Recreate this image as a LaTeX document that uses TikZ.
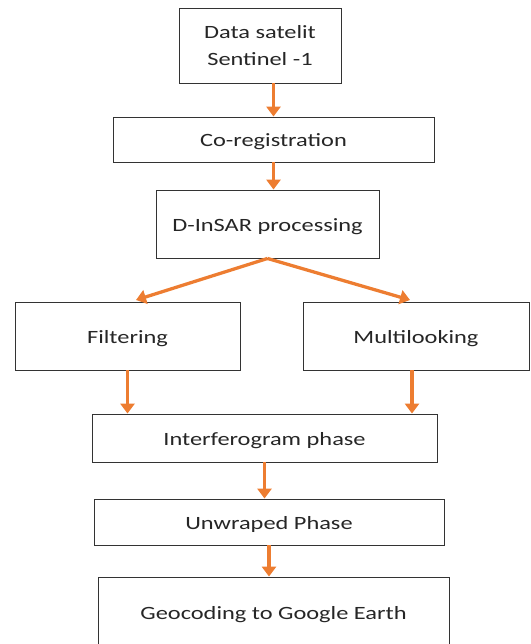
\documentclass[tikz,border=0pt]{standalone}
\usepackage{fontspec}
\setmainfont{Carlito}[FakeStretch=1.3]
\usepackage{xcolor}
\usepackage{tikz}
\usetikzlibrary{shapes,arrows.meta,positioning}
\definecolor{flowOrange}{RGB}{237,125,49}

\begin{document}
\begin{tikzpicture}
  [
    x=0.03cm, y=-0.03cm,
    Box/.style={rectangle, draw=black!80, line width=0.8pt, fill=white, align=center, inner sep=0pt,
      text=black!85, font=\fontsize{16}{23}\selectfont},
    Line/.style={Box, text height=12pt, text depth=0pt},
    Flow/.style={-{Triangle[width=12pt, length=8.5pt]}, draw=flowOrange, fill=flowOrange, line width=2.8pt}
  ]
  \useasboundingbox (0,0) rectangle (530,644);
  % Nodes
  \node[Box, minimum width=4.86cm, minimum height=2.25cm] (data) at(260, 45.5) {Data satelit\\Sentinel -1};
  \node[Line, minimum width=9.63cm, minimum height=1.35cm] (coreg) at(273.5, 139.5) {Co-registration};
  \node[Line, minimum width=6.69cm, minimum height=2.04cm] (dinsar) at(267.5, 224) {D-InSAR processing};
  \node[Line, minimum width=6.75cm, minimum height=2.04cm] (filter) at(127.5, 336) {Filtering};
  \node[Line, minimum width=6.78cm, minimum height=2.04cm] (multi) at(416, 336) {Multilooking};
  \node[Line, minimum width=10.35cm, minimum height=1.44cm] (ifg) at(264.5, 438) {Interferogram phase};
  \node[Line, minimum width=10.5cm, minimum height=1.38cm] (unwrap) at(269, 522) {Unwraped Phase};
  \node[Line, minimum width=10.53cm, minimum height=2.1cm] (geo) at(273.5, 612) {Geocoding to Google Earth};
  \coordinate (fTip) at (136, 300);
  \coordinate (mTip) at (410, 300);
  \coordinate (mOut) at (412, 370);
  % Lines
  \path [Flow] (data.south -| coreg.north) -- (coreg.north);
  \path [Flow] (coreg.south) -- (coreg.south |- dinsar.north);
  \path [Flow] (dinsar.south) -- (fTip);
  \path [Flow] (dinsar.south) -- (mTip);
  \path [Flow] (filter.south) -- (filter.south |- ifg.north);
  \path [Flow] (mOut) -- (mOut |- ifg.north);
  \path [Flow] (ifg.south) -- (ifg.south |- unwrap.north);
  \path [Flow] (unwrap.south) -- (unwrap.south |- geo.north);
\end{tikzpicture}
\end{document}
